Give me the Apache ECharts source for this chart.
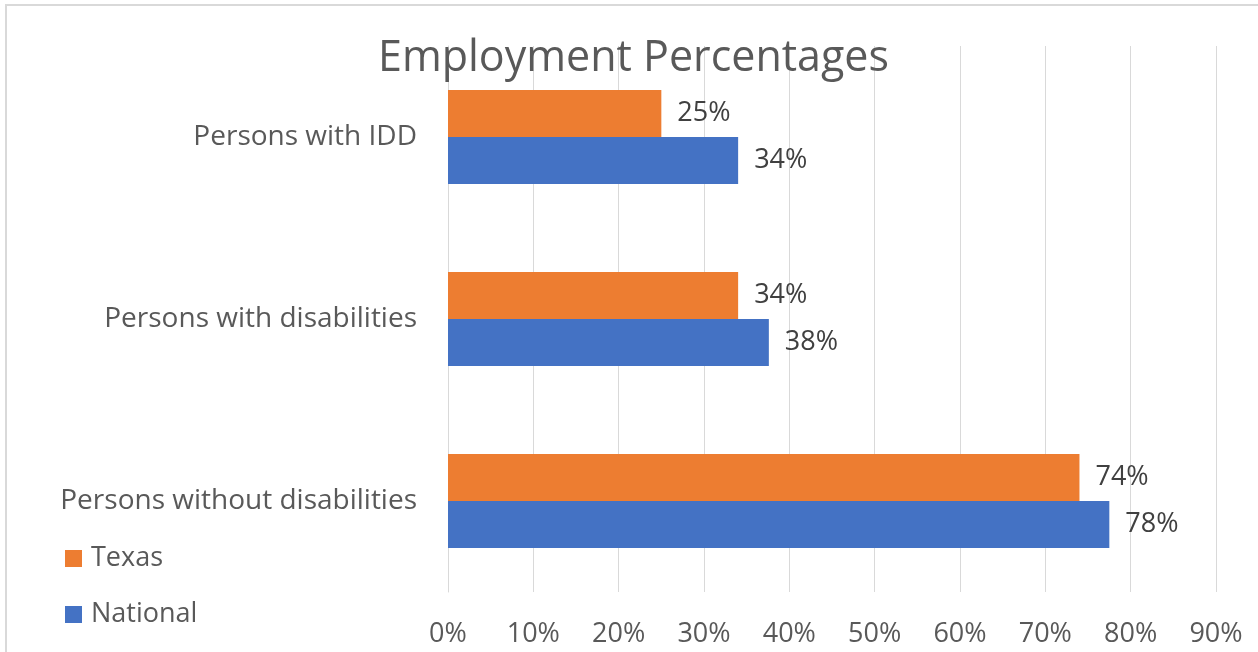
<!DOCTYPE html>
<html>
<head>
<meta charset="utf-8">
<title>Employment Percentages</title>
<script src="https://cdn.jsdelivr.net/npm/echarts@6/dist/echarts.min.js"></script>
<style>
  html, body { margin: 0; padding: 0; background: #ffffff; }
  #chart { width: 1258px; height: 652px; }
</style>
</head>
<body>
<div id="chart"></div>
<script>
// Categories, bottom to top on the vertical axis
const categories = ['Persons without disabilities', 'Persons with disabilities', 'Persons with IDD'];
// Employment rate shares (fraction of population)
const texasValues = [0.74, 0.34, 0.25];
const nationalValues = [0.775, 0.376, 0.34];
// Horizontal axis ticks
const axisMax = 0.9;
const axisStep = 0.1;

const FONT = '"Open Sans", "Noto Sans", sans-serif';
const pct = v => Math.round(v * 100) + '%';

const chart = echarts.init(document.getElementById('chart'), null, { renderer: 'canvas' });

const barLabel = {
  show: true,
  position: 'right',
  distance: 16,
  formatter: p => pct(p.value),
  fontFamily: FONT,
  fontSize: 27,
  color: '#404040'
};

chart.setOption({
  animation: false,
  backgroundColor: '#ffffff',
  textStyle: { fontFamily: FONT },
  title: {
    text: 'Employment Percentages',
    left: 378,
    top: 37,
    padding: 0,
    textStyle: { fontFamily: FONT, fontSize: 43, fontWeight: 'normal', color: '#595959' }
  },
  graphic: [{
    type: 'rect',
    silent: true,
    z: -10,
    shape: { x: 6, y: 5, width: 1300, height: 700 },
    style: { fill: 'none', stroke: '#d9d9d9', lineWidth: 2 }
  }],
  legend: {
    orient: 'vertical',
    left: 65,
    top: 545,
    padding: 0,
    icon: 'rect',
    itemWidth: 17,
    itemHeight: 17,
    itemGap: 29,
    data: ['Texas', 'National'],
    textStyle: { fontFamily: FONT, fontSize: 27, color: '#595959', lineHeight: 27, padding: [0, 0, 0, 4] }
  },
  grid: { left: 448, right: 42, top: 46, bottom: 60, containLabel: false },
  xAxis: {
    type: 'value',
    min: 0,
    max: axisMax,
    interval: axisStep,
    axisLine: { show: false },
    axisTick: { show: false },
    splitLine: { show: true, lineStyle: { color: '#d9d9d9', width: 1 } },
    axisLabel: {
      formatter: pct,
      margin: 29,
      fontFamily: FONT,
      fontSize: 27,
      color: '#595959'
    }
  },
  yAxis: {
    type: 'category',
    data: categories,
    axisLine: { show: true, lineStyle: { color: '#d9d9d9', width: 1 } },
    axisTick: { show: false },
    axisLabel: { margin: 31, fontFamily: FONT, fontSize: 28, color: '#595959' }
  },
  series: [
    {
      name: 'Texas',
      type: 'bar',
      data: texasValues,
      barWidth: 47,
      barGap: '0%',
      itemStyle: { color: '#ed7d31' },
      label: barLabel
    },
    {
      name: 'National',
      type: 'bar',
      data: nationalValues,
      barWidth: 47,
      barGap: '0%',
      itemStyle: { color: '#4472c4' },
      label: barLabel
    }
  ]
});
</script>
</body>
</html>
